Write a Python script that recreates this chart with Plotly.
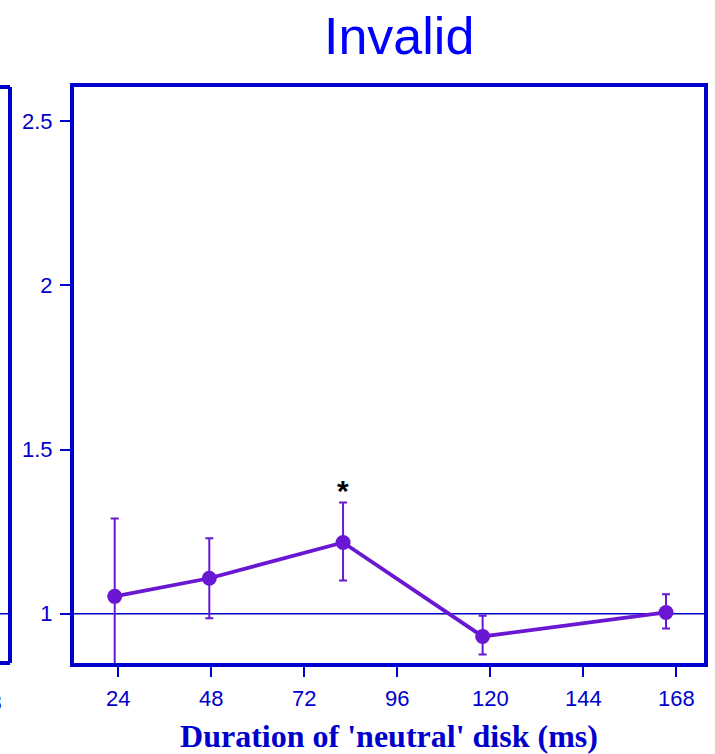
import plotly.graph_objects as go

# Ratio vs. duration of the 'neutral' disk, invalid-cue condition
durations = [23.1, 47.5, 82.0, 118.0, 165.3]
ratio = [1.053, 1.108, 1.217, 0.931, 1.004]
err_upper = [1.290, 1.230, 1.339, 0.994, 1.059]
err_lower = [0.816, 0.986, 1.101, 0.876, 0.955]
x_ticks = [24, 48, 72, 96, 120, 144, 168]
y_ticks = [1, 1.5, 2, 2.5]
significant = [False, False, True, False, False]

BLUE = "#0000cc"
PURPLE = "#6a17d4"

W, H = 715, 754
ML, MR, MT, MB = 74, 11, 87, 91
plot_w = W - ML - MR


def px_to_paper_x(px):
    return (px - ML) / plot_w


fig = go.Figure()

fig.add_trace(go.Scatter(
    x=durations,
    y=ratio,
    mode="lines+markers",
    line=dict(color=PURPLE, width=3.8),
    marker=dict(color=PURPLE, size=15),
    error_y=dict(
        type="data",
        symmetric=False,
        array=[u - r for u, r in zip(err_upper, ratio)],
        arrayminus=[r - l for r, l in zip(ratio, err_lower)],
        color=PURPLE,
        thickness=2,
        width=4,
    ),
    showlegend=False,
    cliponaxis=True,
))

# reference line at ratio = 1
fig.add_shape(type="line", xref="paper", yref="y", x0=0, x1=1, y0=1, y1=1,
              line=dict(color=BLUE, width=1.6), layer="below")

# significance marker
for x, top, sig in zip(durations, err_upper, significant):
    if sig:
        fig.add_annotation(x=x, y=top, text="<b>*</b>", showarrow=False,
                           yanchor="bottom", yshift=-7,
                           font=dict(family="Liberation Sans", size=30, color="black"))

# neighbouring panel (cut off at the left edge)
left_edge = px_to_paper_x(10)
far_left = px_to_paper_x(-40)
fig.add_shape(type="line", xref="paper", yref="paper", x0=left_edge, x1=left_edge,
              y0=0, y1=1, line=dict(color=BLUE, width=4))
fig.add_shape(type="line", xref="paper", yref="paper", x0=far_left, x1=left_edge,
              y0=1, y1=1, line=dict(color=BLUE, width=4))
fig.add_shape(type="line", xref="paper", yref="paper", x0=far_left, x1=left_edge,
              y0=0, y1=0, line=dict(color=BLUE, width=4))
fig.add_shape(type="line", xref="paper", yref="y", x0=far_left, x1=left_edge,
              y0=1, y1=1, line=dict(color=BLUE, width=1.6))
fig.add_annotation(xref="paper", yref="paper", x=px_to_paper_x(4), y=0,
                   xanchor="right", yanchor="top", yshift=-25, text="168",
                   showarrow=False,
                   font=dict(family="Liberation Sans", size=22, color=BLUE))

# panel title
fig.add_annotation(xref="paper", yref="paper", x=px_to_paper_x(399), y=1,
                   yanchor="bottom", yshift=20, text="Invalid", showarrow=False,
                   font=dict(family="Liberation Sans", size=52, color="#0000ff"))

axis_common = dict(
    showline=True, linecolor=BLUE, linewidth=4, mirror=True,
    ticks="outside", ticklen=10, tickwidth=2, tickcolor=BLUE,
    showgrid=False, zeroline=False, ticklabelstandoff=3, automargin=False,
    tickfont=dict(family="Liberation Sans", size=22, color=BLUE),
)

fig.update_layout(
    width=W, height=H,
    margin=dict(l=ML, r=MR, t=MT, b=MB),
    paper_bgcolor="white", plot_bgcolor="white",
    xaxis=dict(range=[12.6, 175.1], tickvals=x_ticks,
               ticktext=[str(v) for v in x_ticks],
               title=dict(text="<b>Duration of 'neutral' disk (ms)</b>",
                          font=dict(family="Liberation Serif", size=32, color=BLUE),
                          standoff=17),
               **axis_common),
    yaxis=dict(range=[0.85, 2.604], tickvals=y_ticks,
               ticktext=["1", "1.5", "2", "2.5"],
               **axis_common),
)

fig.write_html("out.html")
